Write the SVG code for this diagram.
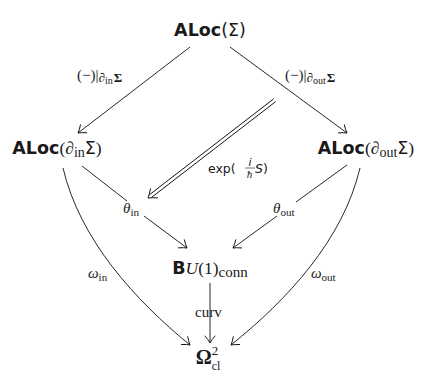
<svg xmlns="http://www.w3.org/2000/svg" width="425" height="371" viewBox="0 0 425 371">
<style>
text{fill:#1a1a1a}
.node{font-family:"DejaVu Sans",sans-serif;font-size:17.5px}
.sb{font-family:"DejaVu Sans",sans-serif;font-weight:bold}
.s{font-family:"DejaVu Sans",sans-serif}
.r{font-family:"Liberation Serif",serif}
.it{font-family:"Liberation Serif",serif;font-style:italic}
.lbl{font-family:"Liberation Serif",serif;font-size:15px}
.e{fill:none;stroke:#111;stroke-width:0.9}
</style>
<defs>
<marker id="to" markerUnits="userSpaceOnUse" markerWidth="14" markerHeight="14" refX="0" refY="0" viewBox="-8 -7 10 14" orient="auto" overflow="visible">
<path d="M-7,-5 Q-2.5,-1.2 0,0 Q-2.5,1.2 -7,5" fill="none" stroke="#111" stroke-width="0.9" stroke-linecap="round"/>
</marker>
</defs>
<g id="connectors">
<line class="e" x1="190" y1="47" x2="78" y2="133" marker-end="url(#to)"/>
<line class="e" x1="230" y1="47" x2="347" y2="133" marker-end="url(#to)"/>
<g transform="translate(148,198) rotate(-37.66)">
<line class="e" x1="160" y1="-1.7" x2="3" y2="-1.7"/>
<line class="e" x1="160" y1="1.7" x2="3" y2="1.7"/>
<path class="e" d="M8,-6 Q3,-1.8 0,0 Q3,1.8 8,6"/>
</g>
<line class="e" x1="82" y1="166" x2="127" y2="201"/>
<line class="e" x1="144" y1="216" x2="187" y2="248" marker-end="url(#to)"/>
<line class="e" x1="347" y1="165" x2="296" y2="202"/>
<line class="e" x1="277" y1="216" x2="233" y2="248" marker-end="url(#to)"/>
<line class="e" x1="210" y1="283" x2="210" y2="343" marker-end="url(#to)"/>
<path class="e" d="M63,168 C80,240 135,300 190,345" marker-end="url(#to)"/>
<path class="e" d="M360,168 C343,240 287,300 231,345" marker-end="url(#to)"/>
<text class="lbl" x="77" y="80">(−)|<tspan class="it" font-size="13" dy="2">∂</tspan><tspan font-size="10" dy="2">in</tspan><tspan font-size="13" font-weight="bold" dy="-2" dx="1">Σ</tspan></text>
<text class="lbl" x="285" y="80">(−)|<tspan class="it" font-size="13" dy="2">∂</tspan><tspan font-size="10" dy="2">out</tspan><tspan font-size="13" font-weight="bold" dy="-2" dx="1">Σ</tspan></text>
<text class="s" x="208" y="173" font-size="12.5">exp(</text>
<text class="s" x="250" y="166" font-size="11" font-style="italic" text-anchor="middle">i</text>
<line x1="245" y1="168" x2="255" y2="168" stroke="#111" stroke-width="0.6"/>
<text class="it" x="249.5" y="177.5" font-size="11" text-anchor="middle">ħ</text>
<text class="s" x="255" y="173" font-size="12.5"><tspan font-style="italic">S</tspan>)</text>
<text class="lbl" x="123" y="213"><tspan class="it">θ</tspan><tspan font-size="11" dy="2.5">in</tspan></text>
<text class="lbl" x="273" y="213"><tspan class="it">θ</tspan><tspan font-size="11" dy="2.5">out</tspan></text>
<text class="lbl" x="88" y="278"><tspan class="it">ω</tspan><tspan font-size="11" dy="2.5">in</tspan></text>
<text class="lbl" x="311" y="278"><tspan class="it">ω</tspan><tspan font-size="11" dy="2.5">out</tspan></text>
<text class="lbl" x="195" y="317" font-size="16">curv</text>
</g>
<g id="n-top"><text class="node" x="210" y="36" text-anchor="middle"><tspan class="sb">ALoc</tspan><tspan class="s">(Σ)</tspan></text></g>
<g id="n-left"><text class="node" x="57" y="154" text-anchor="middle"><tspan class="sb">ALoc</tspan><tspan class="r">(</tspan><tspan class="it">∂</tspan><tspan class="r" font-size="14" dy="3">in</tspan><tspan class="s" dy="-3">Σ</tspan><tspan class="r">)</tspan></text></g>
<g id="n-right"><text class="node" x="366" y="154" text-anchor="middle"><tspan class="sb">ALoc</tspan><tspan class="r">(</tspan><tspan class="it">∂</tspan><tspan class="r" font-size="14" dy="3">out</tspan><tspan class="s" dy="-3">Σ</tspan><tspan class="r">)</tspan></text></g>
<g id="n-bu"><text class="node" x="210" y="274" text-anchor="middle"><tspan class="sb">B</tspan><tspan class="it">U</tspan><tspan class="r">(1)</tspan><tspan class="r" font-size="15" dy="3">conn</tspan></text></g>
<g id="n-omega"><text class="node" x="208" y="364" text-anchor="middle"><tspan class="r" font-weight="bold" font-size="20">Ω</tspan><tspan class="r" font-size="13" dy="-9">2</tspan><tspan class="r" font-size="12" dx="-6.5" dy="14.5">cl</tspan></text></g>
</svg>
